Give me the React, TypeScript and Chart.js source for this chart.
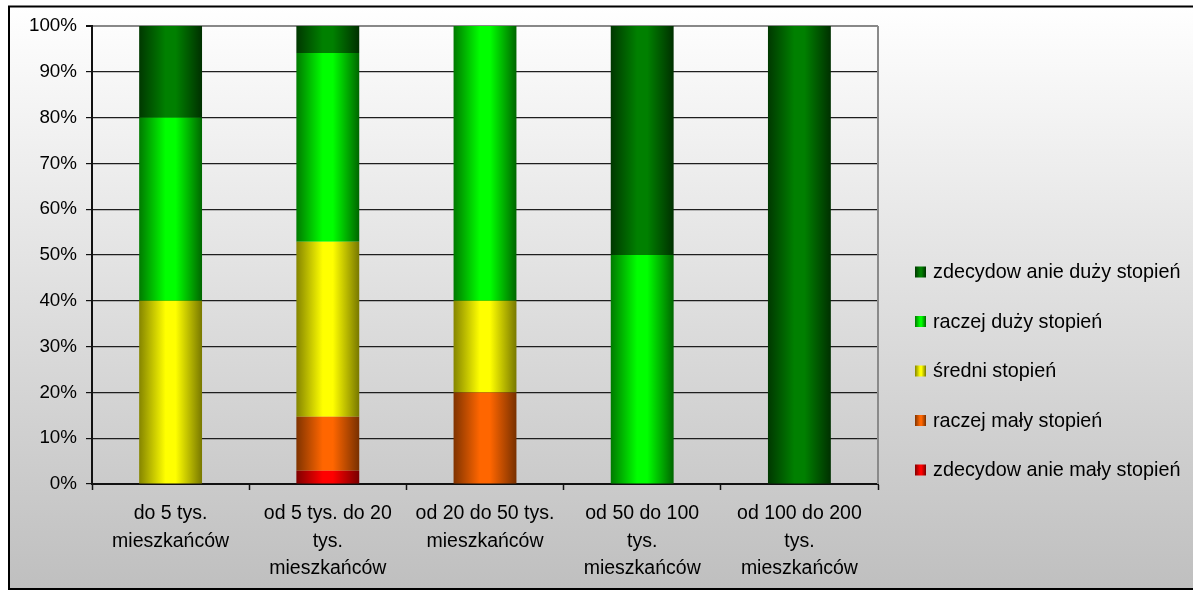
import React, { useEffect, useRef } from 'react';
import { Chart, registerables } from 'chart.js';

Chart.register(...registerables);

const W = 1193;
const H = 590;
const FONT = "'Liberation Sans', Arial, sans-serif";

// ---------- data ----------
const categories: string[][] = [
  ['do 5 tys.', 'mieszkańców'],
  ['od 5 tys. do 20', 'tys.', 'mieszkańców'],
  ['od 20 do 50 tys.', 'mieszkańców'],
  ['od 50 do 100', 'tys.', 'mieszkańców'],
  ['od 100 do 200', 'tys.', 'mieszkańców'],
];

const seriesNames = [
  'zdecydow anie mały stopień',
  'raczej mały stopień',
  'średni stopień',
  'raczej duży stopień',
  'zdecydow anie duży stopień',
];

const zdecydowanieMaly = [0, 2.9, 0, 0, 0];
const raczejMaly = [0, 11.8, 20, 0, 0];
const sredni = [40, 38.2, 20, 0, 0];
const raczejDuzy = [40, 41.2, 60, 50, 0];
const zdecydowanieDuzy = [20, 5.9, 0, 50, 100];

const seriesValues = [zdecydowanieMaly, raczejMaly, sredni, raczejDuzy, zdecydowanieDuzy];

// left edge, centre highlight, right edge
const seriesColors: string[][] = [
  ['#800000', '#ff0000', '#780000'],
  ['#803300', '#ff6600', '#783000'],
  ['#858500', '#ffff00', '#787800'],
  ['#007a00', '#00ff00', '#006600'],
  ['#003800', '#008000', '#003000'],
];

const yTickLabels = ['0%', '10%', '20%', '30%', '40%', '50%', '60%', '70%', '80%', '90%', '100%'];

const BAR_PCT = 0.4;

function makeGradient(c2d: CanvasRenderingContext2D, x0: number, x1: number, c: string[]) {
  const g = c2d.createLinearGradient(x0, 0, x1, 0);
  g.addColorStop(0, c[0]);
  g.addColorStop(0.42, c[1]);
  g.addColorStop(0.58, c[1]);
  g.addColorStop(1, c[2]);
  return g;
}

const decorPlugin = {
  id: 'decor',
  beforeDraw(chart: any) {
    const c = chart.ctx as CanvasRenderingContext2D;
    c.save();
    c.fillStyle = '#ffffff';
    c.fillRect(0, 0, W, H);
    const g = c.createLinearGradient(0, 6, 0, 589);
    g.addColorStop(0, '#ffffff');
    g.addColorStop(1, '#bfbfbf');
    c.fillStyle = g;
    c.fillRect(8, 6, W - 8, 583);
    c.restore();
  },
  afterDraw(chart: any) {
    const c = chart.ctx as CanvasRenderingContext2D;
    const a = chart.chartArea;
    c.save();
    // plot area right border
    c.strokeStyle = '#8a8a8a';
    c.lineWidth = 2;
    c.beginPath();
    c.moveTo(a.right, a.top);
    c.lineTo(a.right, a.bottom);
    c.stroke();
    // outer border
    c.strokeStyle = '#000000';
    c.lineWidth = 2;
    c.beginPath();
    c.moveTo(W, 6.5);
    c.lineTo(9, 6.5);
    c.lineTo(9, 589);
    c.lineTo(W, 589);
    c.stroke();

    // legend
    const xs = [915, 933];
    const ys = [272, 321.5, 371, 420.5, 470];
    c.font = `19.8px ${FONT}`;
    c.textBaseline = 'middle';
    c.textAlign = 'left';
    for (let k = 0; k < 5; k++) {
      const i = 4 - k;
      const y = ys[k];
      const bx = xs[0];
      const bw = 11;
      const bh = 11;
      const col = seriesColors[i];
      const g2 = c.createLinearGradient(bx, 0, bx + bw, 0);
      g2.addColorStop(0, col[0]);
      g2.addColorStop(0.45, col[1]);
      g2.addColorStop(0.6, col[1]);
      g2.addColorStop(1, col[2]);
      c.fillStyle = g2;
      c.fillRect(bx, y - bh / 2, bw, bh);
      c.fillStyle = '#000000';
      c.fillText(seriesNames[i], xs[1], y + 1);
    }
    c.restore();
  },
};

export default function App() {
  const ref = useRef<HTMLCanvasElement | null>(null);

  useEffect(() => {
    if (!ref.current) return;
    const datasets = seriesValues.map((vals, i) => ({
      label: seriesNames[i],
      data: vals,
      borderWidth: 0,
      barPercentage: BAR_PCT,
      categoryPercentage: 1,
      backgroundColor: (ctx: any) => {
        const col = seriesColors[i];
        const chart = ctx.chart;
        const xs = chart.scales && chart.scales.x;
        if (!xs || ctx.dataIndex == null || ctx.type !== 'data') return col[1];
        const center = xs.getPixelForValue(ctx.dataIndex);
        const catW = (xs.right - xs.left) / categories.length;
        const w = catW * BAR_PCT;
        const x0 = center - w / 2;
        const x1 = center + w / 2;
        if (!isFinite(x0) || !isFinite(x1) || !(w > 0)) return col[1];
        return makeGradient(chart.ctx, x0, x1, col);
      },
    }));

    const chart = new Chart(ref.current, {
      type: 'bar',
      data: { labels: categories as any, datasets },
      plugins: [decorPlugin],
      options: {
        responsive: false,
        animation: false,
        events: [],
        layout: { padding: { left: 0, top: 26, right: W - 878, bottom: 0 } },
        plugins: {
          legend: { display: false },
          tooltip: { enabled: false },
          title: { display: false },
        },
        scales: {
          x: {
            stacked: true,
            afterFit: (s: any) => {
              s.height = H - 484;
            },
            grid: {
              offset: true,
              drawOnChartArea: false,
              drawTicks: true,
              tickLength: 6,
              tickColor: '#111111',
              tickWidth: 1.5,
            },
            border: { color: '#111111', width: 2 },
            ticks: {
              color: '#000000',
              font: { family: FONT, size: 19.5, lineHeight: '27.5px' as any },
              padding: 10,
              maxRotation: 0,
              autoSkip: false,
            },
          },
          y: {
            stacked: true,
            min: 0,
            max: 100,
            afterFit: (s: any) => {
              s.width = 92;
            },
            grid: {
              color: (ctx: any) => (ctx.tick && ctx.tick.value === 100 ? '#888888' : '#1e1e1e'),
              lineWidth: (ctx: any) => (ctx.tick && ctx.tick.value === 100 ? 2 : 1.2),
              drawTicks: true,
              tickLength: 6,
              tickColor: '#111111',
            },
            border: { color: '#111111', width: 2 },
            ticks: {
              stepSize: 10,
              color: '#000000',
              font: { family: FONT, size: 18.8 },
              padding: 9,
              callback: (v: any) => yTickLabels[Math.round(Number(v) / 10)],
            },
          },
        },
      },
    });
    return () => chart.destroy();
  }, []);

  return (
    <div style={{ position: 'absolute', left: 0, top: 0, width: W, height: H }}>
      <canvas ref={ref} width={W} height={H} style={{ display: 'block' }} />
    </div>
  );
}
